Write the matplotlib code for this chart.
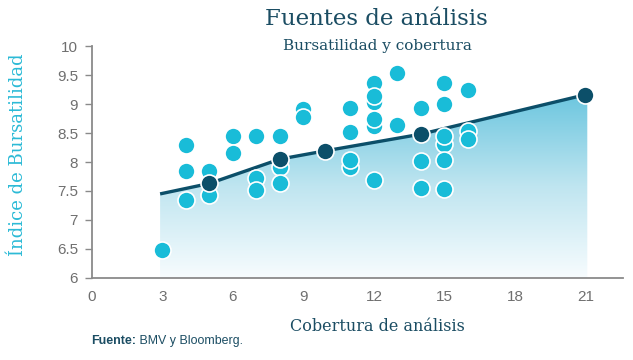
import matplotlib
matplotlib.use("Agg")
import matplotlib.pyplot as plt
import numpy as np
from matplotlib.colors import LinearSegmentedColormap
from matplotlib.patches import Polygon

# Puntos individuales (cobertura, bursatilidad)
cobertura = [3,
             4, 4, 4,
             5, 5,
             6, 6,
             7, 7, 7,
             8, 8, 8,
             9, 9,
             11, 11, 11, 11,
             12, 12, 12, 12, 12, 12,
             13, 13,
             14, 14, 14,
             15, 15, 15, 15, 15, 15,
             16, 16, 16]
bursatilidad = [6.49,
                8.29, 7.85, 7.34,
                7.85, 7.43,
                8.44, 8.16,
                8.44, 7.72, 7.51,
                8.44, 7.92, 7.63,
                8.92, 8.77,
                8.93, 8.51, 7.91, 8.03,
                9.37, 9.03, 9.14, 8.62, 8.75, 7.69,
                9.53, 8.64,
                8.93, 8.02, 7.56,
                9.37, 9.0, 8.31, 8.44, 8.03, 7.54,
                9.25, 8.54, 8.40]

# Linea de promedio
prom_x = [2.9, 5, 8, 9.9, 14, 21]
prom_y = [7.45, 7.63, 8.05, 8.19, 8.48, 9.16]
marcas_x = prom_x[1:]
marcas_y = prom_y[1:]

xticks = [0, 3, 6, 9, 12, 15, 18, 21]
yticks = [6, 6.5, 7, 7.5, 8, 8.5, 9, 9.5, 10]
ytick_labels = ["6", "6.5", "7", "7.5", "8", "8.5", "9", "9.5", "10"]

OSCURO = "#0c4f69"
CLARO = "#19bcd8"
TITULO = "#1b4d63"
GRIS = "#6f6f6f"

fig = plt.figure(figsize=(6.33, 3.6), dpi=100)
ax = fig.add_axes([0.1453, 0.2278, 0.8389, 0.6444])
ax.set_xlim(0.08, 22.6)
ax.set_ylim(6, 10)

# area con degradado bajo la linea
verts = [(prom_x[0], 6)] + list(zip(prom_x, prom_y)) + [(prom_x[-1] + 0.08, prom_y[-1]), (prom_x[-1] + 0.08, 6)]
poly = Polygon(verts, closed=True, facecolor="none", edgecolor="none")
ax.add_patch(poly)
cmap = LinearSegmentedColormap.from_list("deg", ["#f7fcfe", "#bfe5f0", "#6cc6df"])
grad = np.linspace(0, 1, 256).reshape(-1, 1)
img = ax.imshow(grad, extent=[prom_x[0], prom_x[-1] + 0.1, 6, max(prom_y)], origin="lower",
                aspect="auto", cmap=cmap, zorder=1)
img.set_clip_path(poly)

ax.plot(prom_x, prom_y, color=OSCURO, lw=2.4, zorder=2, solid_capstyle="butt")
ax.scatter(cobertura, bursatilidad, s=150, color=CLARO, edgecolors="white", linewidths=1.2, zorder=3)
ax.scatter(marcas_x, marcas_y, s=150, color=OSCURO, edgecolors="white", linewidths=1.2, zorder=4)

ax.set_xticks(xticks)
ax.set_yticks(yticks)
ax.set_yticklabels(ytick_labels)
for s in ["top", "right"]:
    ax.spines[s].set_visible(False)
for s in ["left", "bottom"]:
    ax.spines[s].set_color("#8a8a8a")
    ax.spines[s].set_linewidth(1.3)
ax.tick_params(axis="x", length=0, pad=9, labelsize=11, labelcolor=GRIS)
ax.tick_params(axis="y", length=5, width=1, color="#8a8a8a", pad=5, labelsize=11, labelcolor=GRIS)
for lab in ax.get_xticklabels() + ax.get_yticklabels():
    lab.set_family(["Liberation Sans Narrow", "Liberation Sans"])

fig.text(0.595, 0.948, "Fuentes de análisis", family="DejaVu Serif", fontsize=16.5,
         color=TITULO, ha="center", va="center")
fig.text(0.596, 0.872, "Bursatilidad y cobertura", family="DejaVu Serif", fontsize=11,
         color=TITULO, ha="center", va="center")
fig.text(0.028, 0.57, "Índice de Bursatilidad", family="DejaVu Serif", fontsize=13,
         color="#2bbad6", rotation=90, ha="center", va="center")
fig.text(0.597, 0.094, "Cobertura de análisis", family="DejaVu Serif", fontsize=11.5,
         color=TITULO, ha="center", va="center")

# nota de fuente: parte en negrita y resto normal
fuente = fig.text(0.144, 0.052, "Fuente:", family="Liberation Sans", fontweight="bold",
                  fontsize=8.9, color=TITULO, ha="left", va="center")
ax.annotate(" BMV y Bloomberg.", xy=(1, 0.5), xycoords=fuente, family="Liberation Sans",
            fontsize=8.9, color=TITULO, ha="left", va="center", annotation_clip=False)

fig.savefig("out.png", dpi=100)
